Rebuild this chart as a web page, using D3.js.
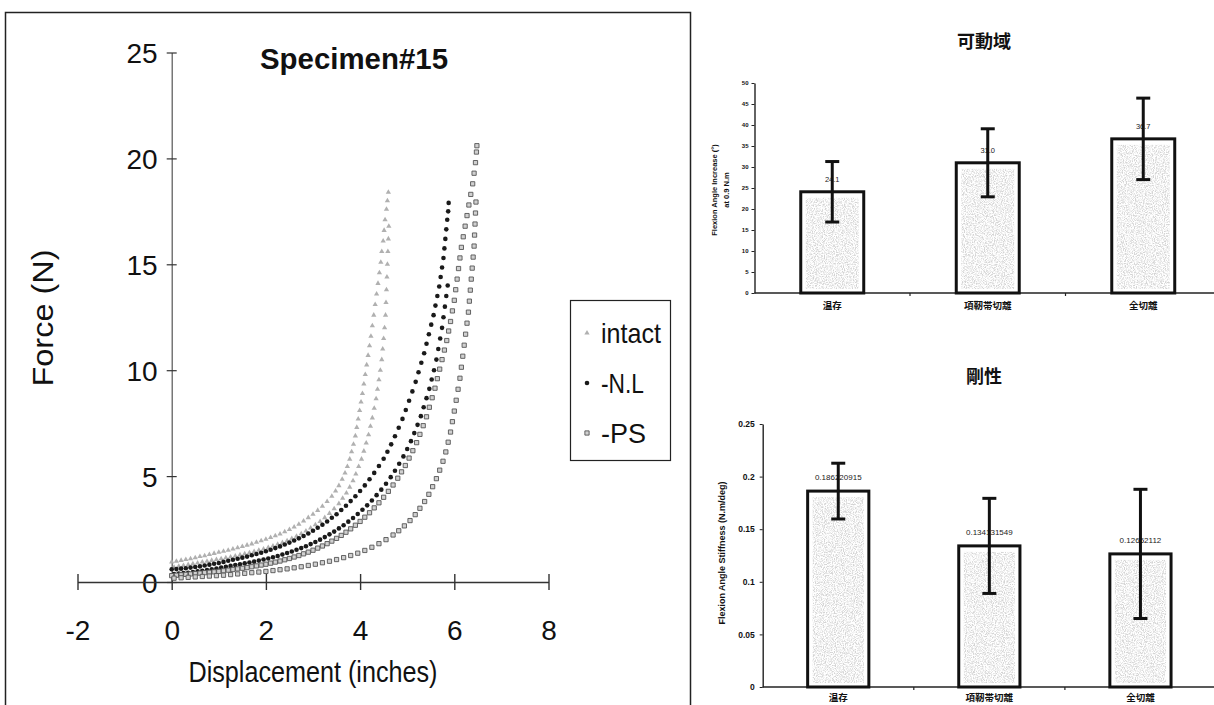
<!DOCTYPE html>
<html>
<head>
<meta charset="utf-8">
<script src="https://cdnjs.cloudflare.com/ajax/libs/d3/7.8.5/d3.min.js"></script>
<style>
  body { margin: 0; background: #fff; }
  svg { display: block; }
</style>
</head>
<body>
<script>
var w = 1214;
var h = 705;

// ---- left chart data ----
var xTicks = [-2, 0, 2, 4, 6, 8];
var yTicks = [0, 5, 10, 15, 20, 25];
var seriesNames = ["intact", "-N.L", "-PS"];

var intactLoad = [[0,0.95],[0.1,0.98],[0.2,1.02],[0.3,1.06],[0.4,1.1],[0.5,1.14],[0.6,1.2],[0.7,1.24],[0.8,1.3],[0.9,1.35],[1.0,1.4],[1.1,1.45],[1.2,1.5],[1.3,1.56],[1.4,1.62],[1.5,1.68],[1.6,1.74],[1.7,1.8],[1.8,1.88],[1.9,1.95],[2.0,2.02],[2.1,2.1],[2.2,2.18],[2.3,2.27],[2.4,2.37],[2.5,2.48],[2.6,2.6],[2.7,2.73],[2.8,2.88],[2.9,3.04],[3.0,3.2],[3.1,3.38],[3.2,3.58],[3.3,3.8],[3.4,4.05],[3.48,4.3],[3.55,4.55],[3.62,4.85],[3.68,5.15],[3.73,5.45],[3.78,5.8],[3.82,6.15],[3.86,6.5],[3.9,6.9],[3.93,7.3],[3.96,7.7],[3.99,8.1],[4.02,8.5],[4.05,8.9],[4.08,9.35],[4.11,9.8],[4.14,10.25],[4.17,10.7],[4.2,11.15],[4.23,11.6],[4.26,12.1],[4.29,12.6],[4.32,13.1],[4.35,13.6],[4.38,14.1],[4.41,14.6],[4.44,15.1],[4.46,15.6],[4.49,16.1],[4.51,16.6],[4.53,17.1],[4.56,17.6],[4.58,18.0],[4.6,18.4]];
var intactUnload = [[0.05,0.7],[0.15,0.74],[0.25,0.78],[0.35,0.82],[0.45,0.86],[0.55,0.9],[0.65,0.94],[0.75,0.98],[0.85,1.02],[0.95,1.06],[1.05,1.1],[1.15,1.14],[1.25,1.18],[1.35,1.23],[1.45,1.28],[1.55,1.33],[1.65,1.38],[1.75,1.44],[1.85,1.5],[1.95,1.56],[2.05,1.63],[2.15,1.7],[2.25,1.78],[2.35,1.86],[2.45,1.95],[2.55,2.05],[2.65,2.16],[2.75,2.28],[2.85,2.41],[2.95,2.55],[3.05,2.7],[3.15,2.86],[3.25,3.04],[3.35,3.24],[3.45,3.46],[3.55,3.7],[3.63,3.95],[3.71,4.2],[3.78,4.48],[3.85,4.78],[3.91,5.1],[3.97,5.45],[4.03,5.8],[4.08,6.18],[4.13,6.56],[4.18,6.95],[4.22,7.35],[4.26,7.75],[4.3,8.2],[4.34,8.65],[4.37,9.1],[4.4,9.55],[4.43,10.0],[4.46,10.5],[4.48,11.0],[4.5,11.5],[4.52,12.0],[4.54,12.6],[4.55,13.2],[4.56,13.8],[4.57,14.4],[4.58,15.0],[4.59,15.6],[4.6,16.2],[4.61,16.8]];
var nlLoad = [[0,0.6],[0.1,0.61],[0.2,0.63],[0.3,0.65],[0.4,0.68],[0.5,0.71],[0.6,0.74],[0.7,0.78],[0.8,0.82],[0.9,0.86],[1.0,0.9],[1.1,0.95],[1.2,1.0],[1.3,1.05],[1.4,1.1],[1.5,1.15],[1.6,1.2],[1.7,1.26],[1.8,1.32],[1.9,1.38],[2.0,1.45],[2.1,1.52],[2.2,1.6],[2.3,1.68],[2.4,1.77],[2.5,1.86],[2.6,1.96],[2.7,2.06],[2.8,2.17],[2.9,2.29],[3.0,2.42],[3.1,2.56],[3.2,2.7],[3.3,2.86],[3.4,3.03],[3.5,3.2],[3.6,3.4],[3.7,3.6],[3.8,3.82],[3.9,4.05],[4.0,4.3],[4.1,4.56],[4.2,4.85],[4.3,5.15],[4.4,5.48],[4.5,5.82],[4.58,6.15],[4.66,6.5],[4.74,6.88],[4.82,7.28],[4.9,7.7],[4.97,8.12],[5.04,8.56],[5.11,9.0],[5.18,9.45],[5.24,9.9],[5.3,10.35],[5.36,10.8],[5.41,11.25],[5.46,11.7],[5.51,12.15],[5.56,12.6],[5.6,13.05],[5.64,13.5],[5.68,13.95],[5.71,14.4],[5.74,14.85],[5.77,15.3],[5.79,15.75],[5.81,16.2],[5.83,16.65],[5.85,17.1],[5.87,17.5],[5.88,17.9]];
var nlUnload = [[0.05,0.38],[0.15,0.4],[0.25,0.42],[0.35,0.44],[0.45,0.47],[0.55,0.5],[0.65,0.53],[0.75,0.56],[0.85,0.6],[0.95,0.64],[1.05,0.68],[1.15,0.72],[1.25,0.76],[1.35,0.8],[1.45,0.84],[1.55,0.88],[1.65,0.92],[1.75,0.96],[1.85,1.01],[1.95,1.06],[2.05,1.11],[2.15,1.17],[2.25,1.23],[2.35,1.3],[2.45,1.37],[2.55,1.44],[2.65,1.52],[2.75,1.6],[2.85,1.69],[2.95,1.79],[3.05,1.89],[3.15,2.0],[3.25,2.12],[3.35,2.25],[3.45,2.38],[3.55,2.53],[3.65,2.68],[3.75,2.85],[3.85,3.02],[3.95,3.21],[4.05,3.41],[4.15,3.62],[4.25,3.85],[4.35,4.1],[4.45,4.36],[4.55,4.64],[4.65,4.95],[4.74,5.25],[4.83,5.58],[4.92,5.93],[5.0,6.28],[5.08,6.65],[5.15,7.03],[5.22,7.42],[5.29,7.83],[5.35,8.25],[5.41,8.68],[5.47,9.12],[5.52,9.56],[5.57,10.0],[5.62,10.5],[5.66,11.0],[5.7,11.5],[5.74,12.0],[5.77,12.5],[5.8,13.0],[5.83,13.5],[5.86,14.0]];
var psLoad = [[0,0.3],[0.1,0.32],[0.2,0.34],[0.3,0.36],[0.4,0.38],[0.5,0.4],[0.6,0.42],[0.7,0.44],[0.8,0.46],[0.9,0.48],[1.0,0.5],[1.1,0.53],[1.2,0.56],[1.3,0.59],[1.4,0.62],[1.5,0.65],[1.6,0.68],[1.7,0.72],[1.8,0.76],[1.9,0.8],[2.0,0.84],[2.1,0.89],[2.2,0.94],[2.3,0.99],[2.4,1.05],[2.5,1.11],[2.6,1.18],[2.7,1.25],[2.8,1.33],[2.9,1.41],[3.0,1.5],[3.1,1.6],[3.2,1.7],[3.3,1.81],[3.4,1.93],[3.5,2.06],[3.6,2.2],[3.7,2.35],[3.8,2.51],[3.9,2.68],[4.0,2.86],[4.1,3.06],[4.2,3.27],[4.3,3.5],[4.4,3.74],[4.5,4.0],[4.6,4.28],[4.7,4.58],[4.8,4.9],[4.88,5.2],[4.96,5.5],[5.04,5.85],[5.12,6.2],[5.2,6.58],[5.27,6.97],[5.34,7.38],[5.41,7.8],[5.47,8.25],[5.53,8.7],[5.59,9.15],[5.64,9.6],[5.69,10.05],[5.74,10.5],[5.79,10.95],[5.84,11.4],[5.88,11.85],[5.92,12.3],[5.96,12.8],[6.0,13.3],[6.03,13.8],[6.06,14.3],[6.09,14.8],[6.12,15.3],[6.15,15.8],[6.19,16.3],[6.23,16.8],[6.27,17.3],[6.31,17.8],[6.35,18.3],[6.39,18.8],[6.42,19.3],[6.45,19.8],[6.47,20.3],[6.48,20.6]];
var psUnload = [[0.05,0.18],[0.2,0.2],[0.35,0.22],[0.5,0.24],[0.65,0.26],[0.8,0.28],[0.95,0.3],[1.1,0.32],[1.25,0.35],[1.4,0.38],[1.55,0.41],[1.7,0.44],[1.85,0.47],[2.0,0.5],[2.15,0.54],[2.3,0.58],[2.45,0.62],[2.6,0.67],[2.75,0.72],[2.9,0.78],[3.05,0.84],[3.2,0.91],[3.35,0.98],[3.5,1.06],[3.65,1.15],[3.8,1.25],[3.95,1.36],[4.1,1.49],[4.25,1.64],[4.4,1.81],[4.55,2.0],[4.7,2.22],[4.82,2.42],[4.94,2.65],[5.06,2.9],[5.17,3.18],[5.27,3.48],[5.37,3.8],[5.46,4.14],[5.54,4.5],[5.62,4.88],[5.69,5.28],[5.76,5.7],[5.82,6.14],[5.87,6.6],[5.92,7.08],[5.96,7.57],[6.0,8.07],[6.04,8.58],[6.08,9.1],[6.12,9.62],[6.15,10.14],[6.18,10.66],[6.21,11.18],[6.24,11.7],[6.27,12.22],[6.3,12.74],[6.32,13.26],[6.34,13.78],[6.36,14.3],[6.38,14.82],[6.4,15.34],[6.42,15.86],[6.43,16.38],[6.44,16.9],[6.45,17.42],[6.46,17.94]];

// ---- right charts data ----
var romCats = ["温存", "項靭帯切離", "全切離"];
var romMean = [24.1, 31.0, 36.7];
var romSd = [7.2, 8.1, 9.7];
var romLabels = ["24.1", "31.0", "36.7"];
var romTicks = [0, 5, 10, 15, 20, 25, 30, 35, 40, 45, 50];

var stiffCats = ["温存", "項靭帯切離", "全切離"];
var stiffMean = [0.186220915, 0.134131549, 0.12652112];
var stiffSd = [0.0265, 0.0452, 0.0614];
var stiffLabels = ["0.186220915", "0.134131549", "0.12652112"];
var stiffTicks = [0, 0.05, 0.1, 0.15, 0.2, 0.25];

var svg = d3.select("body").append("svg")
    .attr("width", w)
    .attr("height", h);

var defs = svg.append("defs");
var flt = defs.append("filter").attr("id", "speck")
    .attr("x", 0).attr("y", 0).attr("width", 1).attr("height", 1);
flt.append("feTurbulence").attr("type", "fractalNoise")
    .attr("baseFrequency", 0.9).attr("numOctaves", 2).attr("seed", 4).attr("result", "n");
flt.append("feColorMatrix").attr("in", "n").attr("type", "matrix")
    .attr("values", "0 0 0 0 0.66  0 0 0 0 0.66  0 0 0 0 0.66  3.2 0 0 0 -1.3")
    .attr("result", "g");
flt.append("feComposite").attr("in", "g").attr("in2", "SourceGraphic").attr("operator", "in");

svg.append("rect").attr("width", w).attr("height", h).attr("fill", "#fff");

// ================= left: scatter =================
var narrow = "'Liberation Sans Narrow', 'Liberation Sans', Arial, sans-serif";
var hyphen = function(d){ return String(d).replace("\u2212", "-"); };
var left = svg.append("g");

left.append("rect")
    .attr("x", 5.5).attr("y", 12.5)
    .attr("width", 685).attr("height", 700)
    .attr("fill", "none").attr("stroke", "#222").attr("stroke-width", 1.5);

var x = d3.scaleLinear().domain([-2, 8]).range([77.5, 548.5]);
var y = d3.scaleLinear().domain([0, 25]).range([582, 52.5]);

var yAxis = left.append("g")
    .attr("transform", "translate(" + x(0) + ",0)")
    .call(d3.axisLeft(y).tickValues(yTicks).tickSizeOuter(0).tickFormat(hyphen));
yAxis.select(".domain").attr("stroke", "#555").attr("stroke-width", 1.2);
yAxis.selectAll(".tick line").attr("x1", -5).attr("x2", 5).attr("stroke", "#333").attr("stroke-width", 1.2);
yAxis.selectAll(".tick text")
    .attr("x", -14).attr("dy", "0.36em")
    .attr("font-family", "'Liberation Sans', Arial, sans-serif")
    .attr("font-size", 28).attr("fill", "#111");

var xAxis = left.append("g")
    .attr("transform", "translate(0," + y(0) + ")")
    .call(d3.axisBottom(x).tickValues(xTicks).tickSizeOuter(0).tickFormat(hyphen));
xAxis.select(".domain").attr("stroke", "#333").attr("stroke-width", 1.4);
xAxis.selectAll(".tick line").attr("y1", -8).attr("y2", 8).attr("stroke", "#333").attr("stroke-width", 1.4);
xAxis.selectAll(".tick text")
    .attr("y", 58).attr("dy", 0)
    .attr("font-family", "'Liberation Sans', Arial, sans-serif")
    .attr("font-size", 28).attr("fill", "#111");

var triangle = d3.symbol().type(d3.symbolTriangle).size(12);
var square = d3.symbol().type(d3.symbolSquare).size(18);

function drawIntact(g, pts) {
    g.selectAll(null).data(pts).enter().append("path")
        .attr("d", triangle)
        .attr("transform", function(d){ return "translate(" + x(d[0]) + "," + y(d[1]) + ")"; })
        .attr("fill", "#b0b0b0");
}
function drawNL(g, pts) {
    g.selectAll(null).data(pts).enter().append("circle")
        .attr("cx", function(d){ return x(d[0]); })
        .attr("cy", function(d){ return y(d[1]); })
        .attr("r", 2.3)
        .attr("fill", "#1a1a1a");
}
function drawPS(g, pts) {
    g.selectAll(null).data(pts).enter().append("path")
        .attr("d", square)
        .attr("transform", function(d){ return "translate(" + x(d[0]) + "," + y(d[1]) + ")"; })
        .attr("fill", "#d0d0d0").attr("stroke", "#555").attr("stroke-width", 0.9);
}

var dots = left.append("g");
drawIntact(dots, intactLoad);
drawIntact(dots, intactUnload);
drawNL(dots, nlLoad);
drawNL(dots, nlUnload);
drawPS(dots, psLoad);
drawPS(dots, psUnload);

left.append("text")
    .attr("x", 354).attr("y", 69)
    .attr("text-anchor", "middle")
    .attr("font-family", "'Liberation Sans', Arial, sans-serif")
    .attr("font-weight", "bold").attr("font-size", 29)
    .attr("textLength", 188).attr("lengthAdjust", "spacingAndGlyphs")
    .attr("fill", "#111")
    .text("Specimen#15");

left.append("text")
    .attr("x", 313).attr("y", 682)
    .attr("text-anchor", "middle")
    .attr("font-family", narrow).attr("font-size", 29)
    .attr("textLength", 249).attr("lengthAdjust", "spacingAndGlyphs")
    .attr("fill", "#111")
    .text("Displacement (inches)");

left.append("text")
    .attr("transform", "translate(53,318) rotate(-90)")
    .attr("text-anchor", "middle")
    .attr("font-family", narrow).attr("font-size", 30)
    .attr("textLength", 137).attr("lengthAdjust", "spacingAndGlyphs")
    .attr("fill", "#111")
    .text("Force (N)");

// legend
var lg = left.append("g");
lg.append("rect")
    .attr("x", 570.5).attr("y", 300.5).attr("width", 100).attr("height", 160)
    .attr("fill", "#fff").attr("stroke", "#222").attr("stroke-width", 1.2);
var legY = [333, 383, 433];
var legW = [60, 43, 45];
lg.selectAll("text").data(seriesNames).enter().append("text")
    .attr("x", 601)
    .attr("y", function(d, i){ return legY[i] + 10; })
    .attr("font-family", narrow).attr("font-size", 28)
    .attr("textLength", function(d, i){ return legW[i]; })
    .attr("lengthAdjust", "spacingAndGlyphs")
    .attr("fill", "#111")
    .text(function(d){ return d; });
lg.append("path").attr("d", triangle).attr("transform", "translate(587," + legY[0] + ")").attr("fill", "#b0b0b0");
lg.append("circle").attr("cx", 587).attr("cy", legY[1]).attr("r", 2.3).attr("fill", "#1a1a1a");
lg.append("path").attr("d", square).attr("transform", "translate(587," + legY[2] + ")")
    .attr("fill", "#d0d0d0").attr("stroke", "#555").attr("stroke-width", 0.9);

// ================= right: bar charts =================
var bold = "'Liberation Sans', Arial, 'Noto Sans CJK JP', sans-serif";
var cjk = "'Noto Sans CJK JP', 'Noto Sans CJK SC', sans-serif";

function barChart(o) {
    var g = svg.append("g");
    var xb = d3.scaleBand().domain(o.cats).range([o.x0, o.x1])
        .paddingInner(0.595).paddingOuter(0.2975);
    var yb = d3.scaleLinear().domain([0, o.max]).range([o.y0, o.y1]);

    g.append("text")
        .attr("x", 984).attr("y", o.titleY)
        .attr("text-anchor", "middle")
        .attr("font-family", cjk).attr("font-weight", "bold").attr("font-size", 18)
        .attr("fill", "#111")
        .text(o.title);

    var ya = g.append("g")
        .attr("transform", "translate(" + o.x0 + ",0)")
        .call(d3.axisLeft(yb).tickValues(o.ticks).tickSize(3).tickPadding(o.pad).tickSizeOuter(0)
            .tickFormat(function(d){ return String(d); }));
    ya.select(".domain").attr("stroke", "#222").attr("stroke-width", 1.4);
    ya.selectAll(".tick line").attr("stroke", "#222");
    ya.selectAll(".tick text")
        .attr("font-family", bold).attr("font-weight", "bold")
        .attr("font-size", o.tickFont).attr("fill", "#111");

    // x axis line with ticks between categories
    g.append("line")
        .attr("x1", o.x0).attr("x2", w)
        .attr("y1", o.y0).attr("y2", o.y0)
        .attr("stroke", "#222").attr("stroke-width", 1.6);
    g.selectAll(".sep").data(o.cats.slice(1)).enter().append("line")
        .attr("x1", function(d){ return xb(d) - xb.step() * xb.paddingInner() / 2; })
        .attr("x2", function(d){ return xb(d) - xb.step() * xb.paddingInner() / 2; })
        .attr("y1", o.y0).attr("y2", o.y0 + 3)
        .attr("stroke", "#222").attr("stroke-width", 1.2);

    g.selectAll(".cat").data(o.cats).enter().append("text")
        .attr("x", function(d){ return xb(d) + xb.bandwidth() / 2; })
        .attr("y", o.y0 + o.catDy)
        .attr("text-anchor", "middle")
        .attr("font-family", cjk).attr("font-weight", "bold").attr("font-size", 9.5)
        .attr("fill", "#111")
        .text(function(d){ return d; });

    var bars = g.selectAll(".bar").data(o.cats).enter().append("g");
    bars.append("rect")
        .attr("x", function(d){ return xb(d); })
        .attr("y", function(d, i){ return yb(o.mean[i]); })
        .attr("width", xb.bandwidth())
        .attr("height", function(d, i){ return o.y0 - yb(o.mean[i]); })
        .attr("fill", "#fff").attr("stroke", "#111").attr("stroke-width", 3);
    bars.append("rect")
        .attr("x", function(d){ return xb(d) + 5; })
        .attr("y", function(d, i){ return yb(o.mean[i]) + 6; })
        .attr("width", xb.bandwidth() - 10)
        .attr("height", function(d, i){ return Math.max(0, o.y0 - yb(o.mean[i]) - 10); })
        .attr("fill", "#999")
        .attr("filter", "url(#speck)");

    bars.append("text")
        .attr("x", function(d){ return xb(d) + xb.bandwidth() / 2; })
        .attr("y", function(d, i){ return yb(o.mean[i]) - o.labDy; })
        .attr("text-anchor", "middle")
        .attr("font-family", "'Liberation Sans', Arial, sans-serif")
        .attr("font-size", o.labFont).attr("fill", "#222")
        .text(function(d, i){ return o.labels[i]; });

    var cx = function(d){ return xb(d) + xb.bandwidth() / 2; };
    bars.append("line")
        .attr("x1", cx).attr("x2", cx)
        .attr("y1", function(d, i){ return yb(o.mean[i] + o.sd[i]); })
        .attr("y2", function(d, i){ return yb(o.mean[i] - o.sd[i]); })
        .attr("stroke", "#111").attr("stroke-width", 3);
    [1, -1].forEach(function(s){
        bars.append("line")
            .attr("x1", function(d){ return cx(d) - 7; })
            .attr("x2", function(d){ return cx(d) + 7; })
            .attr("y1", function(d, i){ return yb(o.mean[i] + s * o.sd[i]); })
            .attr("y2", function(d, i){ return yb(o.mean[i] + s * o.sd[i]); })
            .attr("stroke", "#111").attr("stroke-width", 3);
    });

    var yl = g.append("text")
        .attr("transform", "translate(" + o.ylX + "," + o.ylY + ") rotate(-90)")
        .attr("text-anchor", "middle")
        .attr("font-family", bold).attr("font-weight", "bold")
        .attr("font-size", o.ylFont).attr("fill", "#111");
    o.ylabel.forEach(function(t, i){
        yl.append("tspan").attr("x", 0).attr("dy", i === 0 ? 0 : o.ylFont * 1.6).text(t);
    });
}

barChart({
    title: "可動域", titleY: 48,
    cats: romCats, mean: romMean, sd: romSd, labels: romLabels, ticks: romTicks,
    max: 50, x0: 754.5, x1: 1221, y0: 293, y1: 83,
    pad: 3, tickFont: 6, catDy: 16, labDy: 10, labFont: 7.5,
    ylabel: ["Flexion Angle Increase (°)", "at 0.9 N.m"], ylX: 717, ylY: 190, ylFont: 7.5
});

barChart({
    title: "剛性", titleY: 383,
    cats: stiffCats, mean: stiffMean, sd: stiffSd, labels: stiffLabels, ticks: stiffTicks,
    max: 0.25, x0: 762.7, x1: 1216, y0: 687, y1: 424,
    pad: 5, tickFont: 8.5, catDy: 14, labDy: 11, labFont: 8,
    ylabel: ["Flexion Angle Stiffness (N.m/deg)"], ylX: 725, ylY: 553, ylFont: 9
});
</script>
</body>
</html>
